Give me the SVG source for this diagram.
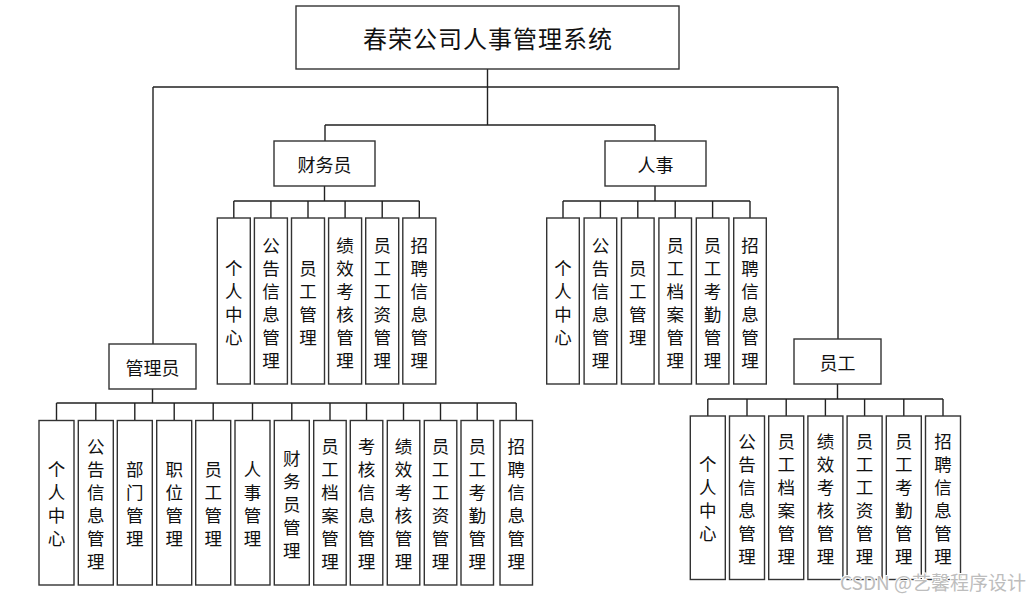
<svg xmlns="http://www.w3.org/2000/svg" width="1035" height="601" viewBox="0 0 1035 601">
<style>
.b{fill:#fff;stroke:#333;stroke-width:1.4}
.c{fill:none;stroke:#222;stroke-width:1.4}
text{font-family:"Noto Sans CJK SC","Noto Sans",sans-serif;fill:#111;text-anchor:middle;dominant-baseline:central}
.v{font-size:17.5px}
.m{font-size:18px}
.t{font-size:24px;letter-spacing:1px}
.w{font-size:19px;fill:#bdbdbd;text-anchor:start;dominant-baseline:alphabetic;stroke:#fff;stroke-width:2;paint-order:stroke}
</style>
<rect width="1035" height="601" fill="#fff"/>
<g id="connectors" class="c">
<path d="M487.5 69V125M153 87H838M153 87V344M838 87V339M325 125H655M325 125V141M655 125V141"/>
<path d="M324.5 186V201M233.8 201H419.3M233.8 201V218M270.9 201V218M308 201V218M345.1 201V218M382.2 201V218M419.3 201V218"/>
<path d="M655 186V201M563 201H750M563 201V218M600.4 201V218M637.8 201V218M675.2 201V218M712.6 201V218M750 201V218"/>
<path d="M152.5 389V403M56.5 403H516.2M56.5 403V420.5M95.8 403V420.5M134.8 403V420.5M174.2 403V420.5M213.2 403V420.5M252.5 403V420.5M291.8 403V420.5M330 403V420.5M366.5 403V420.5M403.5 403V420.5M440.5 403V420.5M477.2 403V420.5M516.2 403V420.5"/>
<path d="M837.5 384V399M707.8 399H943M707.8 399V416M747 399V416M786.2 399V416M825.4 399V416M864.6 399V416M903.8 399V416M943 399V416"/>
</g>
<g id="root"><rect class="b" x="296" y="6" width="383" height="63"/><text class="t" x="488" y="37.5">春荣公司人事管理系统</text></g>
<g id="caiwuyuan"><rect class="b" x="274" y="141" width="101" height="45"/><text class="m" x="324.5" y="163.5">财务员</text></g>
<g id="renshi"><rect class="b" x="605" y="141" width="101" height="45"/><text class="m" x="655.5" y="163.5">人事</text></g>
<g id="guanliyuan"><rect class="b" x="109" y="344" width="87" height="45"/><text class="m" x="152.5" y="366.5">管理员</text></g>
<g id="yuangong"><rect class="b" x="794" y="339" width="87" height="45"/><text class="m" x="837.5" y="361.5">员工</text></g>

<g id="cw1"><rect class="b" x="217.3" y="218" width="33" height="166"/><text class="v"><tspan x="233.8" y="266.5">个</tspan><tspan x="233.8" y="289.5">人</tspan><tspan x="233.8" y="312.5">中</tspan><tspan x="233.8" y="335.5">心</tspan></text></g>
<g id="cw2"><rect class="b" x="254.4" y="218" width="33" height="166"/><text class="v"><tspan x="270.9" y="243.5">公</tspan><tspan x="270.9" y="266.5">告</tspan><tspan x="270.9" y="289.5">信</tspan><tspan x="270.9" y="312.5">息</tspan><tspan x="270.9" y="335.5">管</tspan><tspan x="270.9" y="358.5">理</tspan></text></g>
<g id="cw3"><rect class="b" x="291.5" y="218" width="33" height="166"/><text class="v"><tspan x="308" y="266.5">员</tspan><tspan x="308" y="289.5">工</tspan><tspan x="308" y="312.5">管</tspan><tspan x="308" y="335.5">理</tspan></text></g>
<g id="cw4"><rect class="b" x="328.6" y="218" width="33" height="166"/><text class="v"><tspan x="345.1" y="243.5">绩</tspan><tspan x="345.1" y="266.5">效</tspan><tspan x="345.1" y="289.5">考</tspan><tspan x="345.1" y="312.5">核</tspan><tspan x="345.1" y="335.5">管</tspan><tspan x="345.1" y="358.5">理</tspan></text></g>
<g id="cw5"><rect class="b" x="365.7" y="218" width="33" height="166"/><text class="v"><tspan x="382.2" y="243.5">员</tspan><tspan x="382.2" y="266.5">工</tspan><tspan x="382.2" y="289.5">工</tspan><tspan x="382.2" y="312.5">资</tspan><tspan x="382.2" y="335.5">管</tspan><tspan x="382.2" y="358.5">理</tspan></text></g>
<g id="cw6"><rect class="b" x="402.8" y="218" width="33" height="166"/><text class="v"><tspan x="419.3" y="243.5">招</tspan><tspan x="419.3" y="266.5">聘</tspan><tspan x="419.3" y="289.5">信</tspan><tspan x="419.3" y="312.5">息</tspan><tspan x="419.3" y="335.5">管</tspan><tspan x="419.3" y="358.5">理</tspan></text></g>

<g id="rs1"><rect class="b" x="546.7" y="218" width="32.6" height="166"/><text class="v"><tspan x="563" y="266.5">个</tspan><tspan x="563" y="289.5">人</tspan><tspan x="563" y="312.5">中</tspan><tspan x="563" y="335.5">心</tspan></text></g>
<g id="rs2"><rect class="b" x="584.1" y="218" width="32.6" height="166"/><text class="v"><tspan x="600.4" y="243.5">公</tspan><tspan x="600.4" y="266.5">告</tspan><tspan x="600.4" y="289.5">信</tspan><tspan x="600.4" y="312.5">息</tspan><tspan x="600.4" y="335.5">管</tspan><tspan x="600.4" y="358.5">理</tspan></text></g>
<g id="rs3"><rect class="b" x="621.5" y="218" width="32.6" height="166"/><text class="v"><tspan x="637.8" y="266.5">员</tspan><tspan x="637.8" y="289.5">工</tspan><tspan x="637.8" y="312.5">管</tspan><tspan x="637.8" y="335.5">理</tspan></text></g>
<g id="rs4"><rect class="b" x="658.9" y="218" width="32.6" height="166"/><text class="v"><tspan x="675.2" y="243.5">员</tspan><tspan x="675.2" y="266.5">工</tspan><tspan x="675.2" y="289.5">档</tspan><tspan x="675.2" y="312.5">案</tspan><tspan x="675.2" y="335.5">管</tspan><tspan x="675.2" y="358.5">理</tspan></text></g>
<g id="rs5"><rect class="b" x="696.3" y="218" width="32.6" height="166"/><text class="v"><tspan x="712.6" y="243.5">员</tspan><tspan x="712.6" y="266.5">工</tspan><tspan x="712.6" y="289.5">考</tspan><tspan x="712.6" y="312.5">勤</tspan><tspan x="712.6" y="335.5">管</tspan><tspan x="712.6" y="358.5">理</tspan></text></g>
<g id="rs6"><rect class="b" x="733.7" y="218" width="32.6" height="166"/><text class="v"><tspan x="750" y="243.5">招</tspan><tspan x="750" y="266.5">聘</tspan><tspan x="750" y="289.5">信</tspan><tspan x="750" y="312.5">息</tspan><tspan x="750" y="335.5">管</tspan><tspan x="750" y="358.5">理</tspan></text></g>

<g id="gl1"><rect class="b" x="39" y="420.5" width="35" height="164.5"/><text class="v"><tspan x="56.5" y="468">个</tspan><tspan x="56.5" y="491">人</tspan><tspan x="56.5" y="514">中</tspan><tspan x="56.5" y="537">心</tspan></text></g>
<g id="gl2"><rect class="b" x="78.3" y="420.5" width="35" height="164.5"/><text class="v"><tspan x="95.8" y="445">公</tspan><tspan x="95.8" y="468">告</tspan><tspan x="95.8" y="491">信</tspan><tspan x="95.8" y="514">息</tspan><tspan x="95.8" y="537">管</tspan><tspan x="95.8" y="560">理</tspan></text></g>
<g id="gl3"><rect class="b" x="117.3" y="420.5" width="35" height="164.5"/><text class="v"><tspan x="134.8" y="468">部</tspan><tspan x="134.8" y="491">门</tspan><tspan x="134.8" y="514">管</tspan><tspan x="134.8" y="537">理</tspan></text></g>
<g id="gl4"><rect class="b" x="156.7" y="420.5" width="35" height="164.5"/><text class="v"><tspan x="174.2" y="468">职</tspan><tspan x="174.2" y="491">位</tspan><tspan x="174.2" y="514">管</tspan><tspan x="174.2" y="537">理</tspan></text></g>
<g id="gl5"><rect class="b" x="195.7" y="420.5" width="35" height="164.5"/><text class="v"><tspan x="213.2" y="468">员</tspan><tspan x="213.2" y="491">工</tspan><tspan x="213.2" y="514">管</tspan><tspan x="213.2" y="537">理</tspan></text></g>
<g id="gl6"><rect class="b" x="235" y="420.5" width="35" height="164.5"/><text class="v"><tspan x="252.5" y="468">人</tspan><tspan x="252.5" y="491">事</tspan><tspan x="252.5" y="514">管</tspan><tspan x="252.5" y="537">理</tspan></text></g>
<g id="gl7"><rect class="b" x="274.3" y="420.5" width="35" height="164.5"/><text class="v"><tspan x="291.8" y="456.5">财</tspan><tspan x="291.8" y="479.5">务</tspan><tspan x="291.8" y="502.5">员</tspan><tspan x="291.8" y="525.5">管</tspan><tspan x="291.8" y="548.5">理</tspan></text></g>
<g id="gl8"><rect class="b" x="313.7" y="420.5" width="32.5" height="164.5"/><text class="v"><tspan x="330" y="445">员</tspan><tspan x="330" y="468">工</tspan><tspan x="330" y="491">档</tspan><tspan x="330" y="514">案</tspan><tspan x="330" y="537">管</tspan><tspan x="330" y="560">理</tspan></text></g>
<g id="gl9"><rect class="b" x="350.3" y="420.5" width="32.5" height="164.5"/><text class="v"><tspan x="366.5" y="445">考</tspan><tspan x="366.5" y="468">核</tspan><tspan x="366.5" y="491">信</tspan><tspan x="366.5" y="514">息</tspan><tspan x="366.5" y="537">管</tspan><tspan x="366.5" y="560">理</tspan></text></g>
<g id="gl10"><rect class="b" x="387.3" y="420.5" width="32.5" height="164.5"/><text class="v"><tspan x="403.5" y="445">绩</tspan><tspan x="403.5" y="468">效</tspan><tspan x="403.5" y="491">考</tspan><tspan x="403.5" y="514">核</tspan><tspan x="403.5" y="537">管</tspan><tspan x="403.5" y="560">理</tspan></text></g>
<g id="gl11"><rect class="b" x="424.3" y="420.5" width="32.5" height="164.5"/><text class="v"><tspan x="440.5" y="445">员</tspan><tspan x="440.5" y="468">工</tspan><tspan x="440.5" y="491">工</tspan><tspan x="440.5" y="514">资</tspan><tspan x="440.5" y="537">管</tspan><tspan x="440.5" y="560">理</tspan></text></g>
<g id="gl12"><rect class="b" x="461" y="420.5" width="32.5" height="164.5"/><text class="v"><tspan x="477.2" y="445">员</tspan><tspan x="477.2" y="468">工</tspan><tspan x="477.2" y="491">考</tspan><tspan x="477.2" y="514">勤</tspan><tspan x="477.2" y="537">管</tspan><tspan x="477.2" y="560">理</tspan></text></g>
<g id="gl13"><rect class="b" x="500" y="420.5" width="32.5" height="164.5"/><text class="v"><tspan x="516.2" y="445">招</tspan><tspan x="516.2" y="468">聘</tspan><tspan x="516.2" y="491">信</tspan><tspan x="516.2" y="514">息</tspan><tspan x="516.2" y="537">管</tspan><tspan x="516.2" y="560">理</tspan></text></g>

<g id="yg1"><rect class="b" x="690.3" y="416" width="35" height="163.5"/><text class="v"><tspan x="707.8" y="463">个</tspan><tspan x="707.8" y="486">人</tspan><tspan x="707.8" y="509">中</tspan><tspan x="707.8" y="532">心</tspan></text></g>
<g id="yg2"><rect class="b" x="729.5" y="416" width="35" height="163.5"/><text class="v"><tspan x="747" y="440">公</tspan><tspan x="747" y="463">告</tspan><tspan x="747" y="486">信</tspan><tspan x="747" y="509">息</tspan><tspan x="747" y="532">管</tspan><tspan x="747" y="555">理</tspan></text></g>
<g id="yg3"><rect class="b" x="768.7" y="416" width="35" height="163.5"/><text class="v"><tspan x="786.2" y="440">员</tspan><tspan x="786.2" y="463">工</tspan><tspan x="786.2" y="486">档</tspan><tspan x="786.2" y="509">案</tspan><tspan x="786.2" y="532">管</tspan><tspan x="786.2" y="555">理</tspan></text></g>
<g id="yg4"><rect class="b" x="807.9" y="416" width="35" height="163.5"/><text class="v"><tspan x="825.4" y="440">绩</tspan><tspan x="825.4" y="463">效</tspan><tspan x="825.4" y="486">考</tspan><tspan x="825.4" y="509">核</tspan><tspan x="825.4" y="532">管</tspan><tspan x="825.4" y="555">理</tspan></text></g>
<g id="yg5"><rect class="b" x="847.1" y="416" width="35" height="163.5"/><text class="v"><tspan x="864.6" y="440">员</tspan><tspan x="864.6" y="463">工</tspan><tspan x="864.6" y="486">工</tspan><tspan x="864.6" y="509">资</tspan><tspan x="864.6" y="532">管</tspan><tspan x="864.6" y="555">理</tspan></text></g>
<g id="yg6"><rect class="b" x="886.3" y="416" width="35" height="163.5"/><text class="v"><tspan x="903.8" y="440">员</tspan><tspan x="903.8" y="463">工</tspan><tspan x="903.8" y="486">考</tspan><tspan x="903.8" y="509">勤</tspan><tspan x="903.8" y="532">管</tspan><tspan x="903.8" y="555">理</tspan></text></g>
<g id="yg7"><rect class="b" x="925.5" y="416" width="35" height="163.5"/><text class="v"><tspan x="943" y="440">招</tspan><tspan x="943" y="463">聘</tspan><tspan x="943" y="486">信</tspan><tspan x="943" y="509">息</tspan><tspan x="943" y="532">管</tspan><tspan x="943" y="555">理</tspan></text></g>

<text class="w" x="840" y="590">CSDN @艺馨程序设计</text>
</svg>
